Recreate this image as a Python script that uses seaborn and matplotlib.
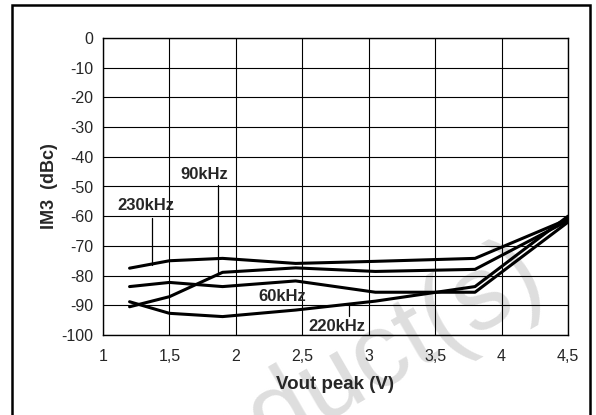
# -*- coding: utf-8 -*-
"""IM3 vs Vout peak 그래프 재현"""

import numpy as np
import pandas as pd
import seaborn as sns
import matplotlib.pyplot as plt
from matplotlib.patches import Rectangle

# 데이터
vout = [1.2, 1.5, 1.9, 2.45, 3.05, 3.8, 4.5]
im3_230k = [-77.5, -75.0, -74.2, -75.9, -75.2, -74.2, -61.0]
im3_90k = [-90.5, -87.1, -78.9, -77.4, -78.6, -77.9, -61.5]
im3_60k = [-83.7, -82.3, -83.7, -81.8, -85.6, -85.6, -62.0]
im3_220k = [-88.8, -92.7, -93.8, -91.6, -88.6, -83.7, -60.0]

x_ticks = [1, 1.5, 2, 2.5, 3, 3.5, 4, 4.5]
x_labels = ["1", "1,5", "2", "2,5", "3", "3,5", "4", "4,5"]
y_ticks = list(range(-100, 1, 10))

sns.set_style("white")
plt.rcParams['font.family'] = ['Liberation Sans', 'DejaVu Sans']
plt.rcParams['axes.unicode_minus'] = False

fig = plt.figure(figsize=(5.96, 4.15), dpi=100)

# 워터마크
fig.text(0.545, 0.07, "Product(s)", fontsize=76, color="#dedede",
         rotation=30, ha="center", va="center", rotation_mode="anchor", zorder=-1)

# 바깥 테두리
fig.patches.append(Rectangle((12 / 596, -0.05), (590 - 12) / 596, 1.05 - 5 / 415,
                             transform=fig.transFigure, fill=False,
                             edgecolor="black", linewidth=1.8, zorder=1))

ax = fig.add_axes([103 / 596, 80 / 415, 465 / 596, 297 / 415])
ax.set_facecolor("none")

series = {"230kHz": im3_230k, "90kHz": im3_90k, "60kHz": im3_60k, "220kHz": im3_220k}
for name, vals in series.items():
    df = pd.DataFrame({"vout": vout, "im3": vals})
    sns.lineplot(data=df, x="vout", y="im3", color="black", linewidth=2.2, ax=ax,
                 zorder=3)

# 레이블과 지시선
lab = dict(fontsize=12, fontweight="bold", ha="center", va="center")
ax.text(1.32, -56.5, "230kHz", **lab)
ax.plot([1.369, 1.369], [-60.5, -76.5], color="black", linewidth=0.9)
ax.text(1.76, -45.8, "90kHz", **lab)
ax.plot([1.863, 1.863], [-49.5, -79.0], color="black", linewidth=0.9)
ax.text(2.35, -87.2, "60kHz", **lab)
ax.text(2.757, -97.2, "220kHz", **lab)
ax.plot([2.853, 2.853], [-90.0, -93.5], color="black", linewidth=0.9)

ax.set_xlim(1, 4.5)
ax.set_ylim(-100, 0)
ax.set_xticks(x_ticks)
ax.set_xticklabels(x_labels)
ax.set_yticks(y_ticks)
ax.tick_params(axis="x", length=0, labelsize=11.5, pad=10)
ax.tick_params(axis="y", length=0, labelsize=11.5, pad=7)
ax.grid(True, color="black", linewidth=0.8)
for s in ax.spines.values():
    s.set_color("black")
    s.set_linewidth(1.0)

ax.set_xlabel("Vout peak (V)", fontsize=13.5, fontweight="bold", labelpad=9)
ax.set_ylabel("IM3  (dBc)", fontsize=13, fontweight="bold", labelpad=2)

fig.savefig("out.png", dpi=100)
